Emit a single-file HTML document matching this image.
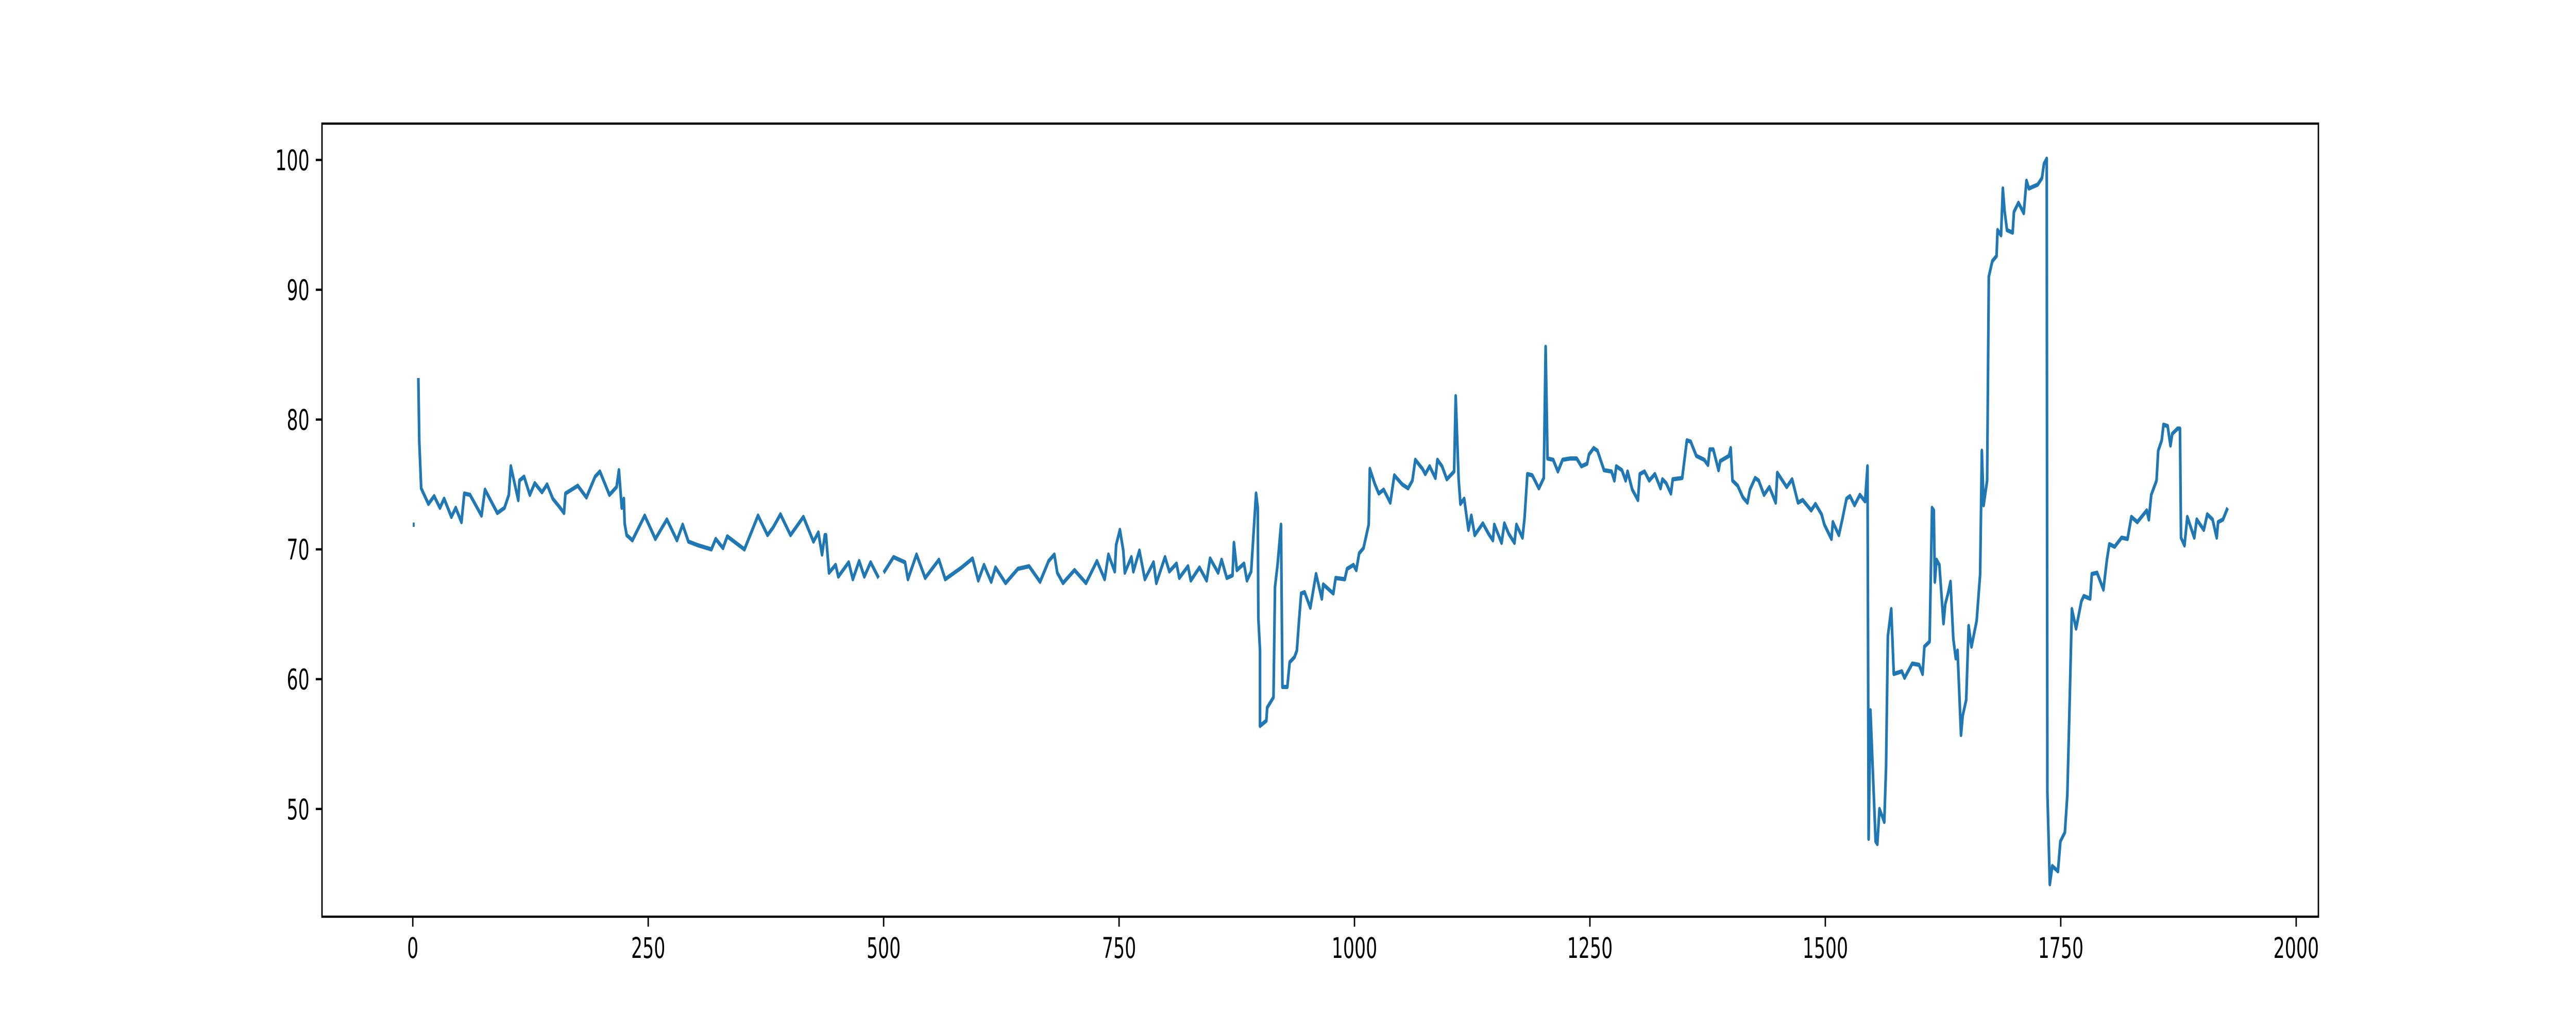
<!DOCTYPE html>
<html><head><meta charset="utf-8">
<style>
html,body{margin:0;padding:0;background:#fff;width:100%;height:100%;overflow:hidden;}
svg{display:block;width:100vw;height:100vh;}
text{font-family:"DejaVu Sans","Liberation Sans",sans-serif;font-size:55.6px;fill:#000;}
</style></head>
<body>
<svg id="chart" viewBox="0 0 8000 2000" preserveAspectRatio="none" xmlns="http://www.w3.org/2000/svg">
<rect x="0" y="0" width="8000" height="2000" fill="#fff"/>
<g id="plot"></g>
<g id="axes"></g>
</svg>
<script>
const xTicks = [0, 250, 500, 750, 1000, 1250, 1500, 1750, 2000];
const yTicks = [50, 60, 70, 80, 90, 100];
const seriesX = [0,2,null,5.9,6.9,8.9,16.6,22.7,28.8,33.3,41,45.6,51.7,54.7,60.8,73,76.7,89.8,97.4,102,104.1,112,113.3,118.2,124.3,129.5,137.2,142.6,148.7,155.4,160.6,162.1,175.2,184.4,193.6,198.7,208.8,216.4,218.9,221.9,224.1,225,227.1,233.2,246.3,257.6,269.8,280.5,286.6,292.7,303.4,317.1,321.7,329.4,334,352.2,358.3,366.6,376.7,382.8,390.4,401.1,414.8,425.5,430.7,434.6,437.6,438.8,442,449,451.9,462.9,467.3,474,479.5,486.2,494.7,null,500,510.5,522.7,525.8,534.9,544.1,558.7,565.4,582.8,594.4,600.5,606.6,614.2,618.8,629.5,642.6,654.5,666.1,675.2,681.3,684.4,690.5,702.7,714.9,726.5,734.7,738.7,745.4,746.9,750.9,754.5,756.1,763.1,765.2,771.6,777.4,786.6,789.6,798.8,803.4,811,814,823.2,826.2,835.4,843,846.7,855.2,858.9,864.4,870.5,872,875.1,882.7,885.8,890.3,893.4,895.5,897.3,897.9,899.7,899.7,906.4,907.3,914,915.6,918.3,922,923.5,928.7,931.2,936.3,938.8,940.9,943.4,947,953.1,959.2,965.3,966.8,977.5,980,989.7,992.2,998.9,1001.9,1005,1009.6,1015.1,1016.3,1021.8,1025.8,1031,1038,1042.3,1050.8,1056.9,1061.5,1064.6,1072.2,1075.2,1079.8,1085.9,1088.1,1093,1098.1,1105.8,1107.5,1110.6,1112.5,1116.5,1121,1124.1,1127.7,1136.3,1142.4,1147,1148.5,1156.2,1159.2,1163.8,1169.9,1172,1178.4,1180.6,1183.6,1188.8,1195.8,1201,1203,1205,1211,1216,1221,1229,1236,1241,1247,1249,1254,1258,1265,1273,1276,1278,1284,1288,1290,1295,1301,1303,1308,1313,1319,1325,1327,1331,1336,1338,1348,1353,1357,1363,1371.4,1375.4,1377.3,1381,1386.6,1388.4,1397.7,1399.5,1401.4,1407,1412.5,1417.3,1419.9,1425.5,1429.2,1434.9,1440.6,1447.3,1449,1459,1464.7,1471,1476,1485,1489.5,1496,1499,1506.5,1508,1514.4,1518,1522.5,1526.2,1531,1536.7,1542.2,1544.8,1546,1547.9,1553.4,1555.2,1557.5,1562.6,1564.5,1566.4,1570,1572.7,1581.2,1584.1,1592.3,1599.6,1603.3,1605.2,1610.7,1613.3,1615.2,1616.3,1618.1,1621.1,1625.5,1627.4,1630.3,1632.9,1635.9,1638.5,1640.4,1644.1,1645.9,1649.6,1652.2,1655.2,1660.7,1664.4,1666.2,1668.1,1671.8,1673.6,1677.3,1681.8,1682.9,1686.6,1688.5,1690.3,1692.9,1698.9,1700.3,1705.1,1710.7,1713.6,1716.2,1725.5,1730,1732.2,1735.1,1735.8,1738.4,1741,1747,1749.6,1754.4,1757,1758.9,1761.8,1766.3,1771.9,1774.5,1781.2,1783,1788.6,1795.3,1799,1801.6,1807.2,1814.6,1820.9,1825,1831.3,1841.3,1843.5,1846.1,1851.7,1853.5,1857.2,1859.1,1863.5,1866.5,1868.4,1874,1876.6,1877.7,1881.4,1884.4,1891.8,1894.4,1901.9,1905.6,1911.2,1915.6,1917.1,1922.3,1927.2];
const seriesY = [71.9,71.9,null,83.2,78.3,74.7,73.5,74.1,73.2,73.9,72.5,73.2,72.1,74.3,74.2,72.6,74.6,72.8,73.2,74.2,76.4,73.8,75.3,75.6,74.2,75.1,74.4,75.0,73.9,73.3,72.8,74.3,74.9,74.0,75.6,76.0,74.2,74.8,76.1,73.2,73.9,72,71.1,70.7,72.6,70.8,72.3,70.7,71.9,70.6,70.3,70.0,70.8,70.1,71.0,70.0,71.1,72.6,71.1,71.7,72.7,71.1,72.5,70.6,71.3,69.6,71.1,71.1,68.2,68.8,67.9,69,67.7,69.1,67.9,69,67.8,null,68.2,69.4,69,67.7,69.6,67.8,69.2,67.7,68.6,69.3,67.6,68.8,67.5,68.6,67.4,68.5,68.7,67.5,69.1,69.6,68.2,67.4,68.4,67.4,69.1,67.7,69.6,68.3,70.35,71.5,69.9,68.2,69.4,68.3,69.9,67.7,69,67.4,69.4,68.3,68.9,67.8,68.7,67.6,68.6,67.6,69.3,68.2,69.2,67.8,68,70.5,68.4,68.9,67.6,68.3,71.9,74.3,73.2,64.7,62.2,56.4,56.8,57.8,58.6,67.1,68.8,71.9,59.4,59.4,61.3,61.7,62.2,64.3,66.6,66.7,65.5,68.1,66.2,67.3,66.6,67.8,67.7,68.5,68.8,68.4,69.7,70.1,71.9,76.2,75.0,74.3,74.6,73.6,75.7,75,74.7,75.3,76.9,76.2,75.8,76.4,75.5,76.9,76.4,75.4,76,81.8,75.4,73.5,73.9,71.5,72.6,71.1,72,71.2,70.7,71.9,70.5,72,71.2,70.5,71.9,70.9,72.4,75.8,75.7,74.7,75.5,85.6,77.0,76.9,76,76.9,77,77,76.4,76.6,77.3,77.8,77.6,76.1,76,75.3,76.4,76.1,75.3,76,74.6,73.8,75.8,76,75.3,75.8,74.7,75.4,75.1,74.3,75.4,75.5,78.4,78.3,77.2,76.9,76.5,77.7,77.7,76.1,76.8,77.2,77.8,75.3,74.9,74,73.6,74.6,75.5,75.3,74.2,74.8,73.6,75.9,74.8,75.4,73.6,73.8,73,73.5,72.7,71.9,70.8,72.1,71.1,72.3,73.9,74.1,73.4,74.2,73.7,76.4,47.7,57.6,47.5,47.3,50,49,53.2,63.3,65.4,60.4,60.6,60.1,61.2,61.1,60.4,62.5,62.9,73.2,73,67.5,69.2,68.8,64.3,65.8,66.6,67.5,63.1,61.6,62.2,55.7,57.2,58.4,64.1,62.5,64.5,68.1,77.6,73.4,75.3,91,92.2,92.6,94.6,94.2,97.8,96.1,94.6,94.4,96,96.7,95.9,98.4,97.8,98.1,98.6,99.7,100.1,51.3,44.2,45.6,45.2,47.5,48.2,51.1,56.6,65.4,63.9,66,66.4,66.2,68.1,68.2,66.9,69.2,70.4,70.2,70.9,70.8,72.5,72.1,73,72.3,74.2,75.3,77.6,78.4,79.6,79.5,78,78.9,79.3,79.3,70.9,70.3,72.5,70.9,72.3,71.5,72.7,72.3,70.9,72.1,72.3,73.2];

const L = 1000, R = 7200, T = 240, B = 1780;
const xMin = -96.4, xMax = 2023.6, yMin = 41.7, yMax = 102.8;
function xs(v){ return L + (v - xMin) / (xMax - xMin) * (R - L); }
function ys(v){ return B - (v - yMin) / (yMax - yMin) * (B - T); }
const NS = 'http://www.w3.org/2000/svg';
const plot = document.getElementById('plot');
const axes = document.getElementById('axes');

let d = '', pen = false;
for (let i = 0; i < seriesX.length; i++) {
  if (seriesX[i] === null || seriesY[i] === null) { pen = false; continue; }
  d += (pen ? 'L' : 'M') + xs(seriesX[i]).toFixed(1) + ' ' + ys(seriesY[i]).toFixed(1);
  pen = true;
}
const line = document.createElementNS(NS, 'path');
line.setAttribute('d', d);
line.setAttribute('fill', 'none');
line.setAttribute('stroke', '#1f77b4');
line.setAttribute('stroke-width', '8.3');
line.setAttribute('stroke-linejoin', 'round');
line.setAttribute('stroke-linecap', 'butt');


plot.appendChild(line);

const frame = document.createElementNS(NS, 'rect');
frame.setAttribute('x', L); frame.setAttribute('y', T);
frame.setAttribute('width', R - L); frame.setAttribute('height', B - T);
frame.setAttribute('fill', 'none'); frame.setAttribute('stroke', '#000');
frame.setAttribute('stroke-width', '4.4');


axes.appendChild(frame);

xTicks.forEach(function(t){
  const x = xs(t);
  const tk = document.createElementNS(NS, 'line');
  tk.setAttribute('x1', x); tk.setAttribute('x2', x);
  tk.setAttribute('y1', B); tk.setAttribute('y2', B + 19.4);
  tk.setAttribute('stroke', '#000'); tk.setAttribute('stroke-width', '4.4');
  
  
  axes.appendChild(tk);
  const tx = document.createElementNS(NS, 'text');
  tx.setAttribute('x', x); tx.setAttribute('y', B + 19.4 + 19.4 + 41);
  tx.setAttribute('text-anchor', 'middle');
  tx.textContent = String(t);
  
  
  axes.appendChild(tx);
});
yTicks.forEach(function(t){
  const y = ys(t);
  const tk = document.createElementNS(NS, 'line');
  tk.setAttribute('x1', L - 19.4); tk.setAttribute('x2', L);
  tk.setAttribute('y1', y); tk.setAttribute('y2', y);
  tk.setAttribute('stroke', '#000'); tk.setAttribute('stroke-width', '4.4');
  
  
  axes.appendChild(tk);
  const tx = document.createElementNS(NS, 'text');
  tx.setAttribute('x', L - 19.4 - 19.4); tx.setAttribute('y', y + 20);
  tx.setAttribute('text-anchor', 'end');
  tx.textContent = String(t);
  
  
  axes.appendChild(tx);
});
</script>
</body></html>
